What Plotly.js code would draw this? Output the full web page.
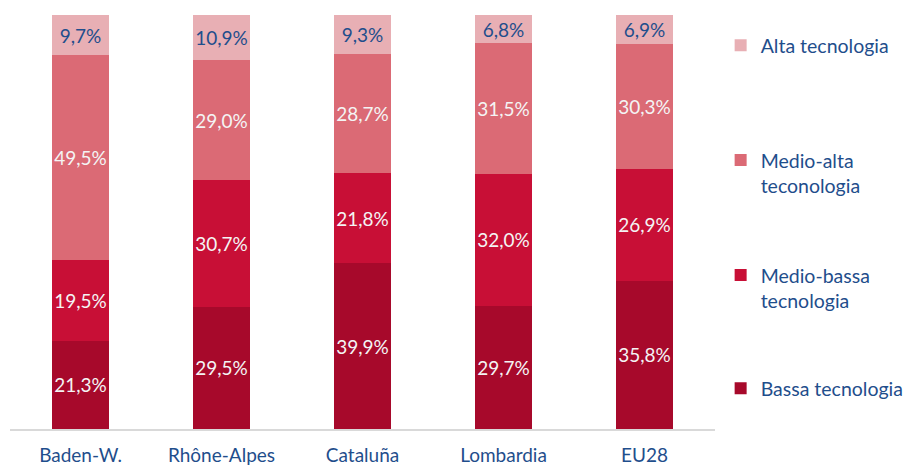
<!DOCTYPE html>
<html>
<head>
<meta charset="utf-8">
<script src="https://cdn.plot.ly/plotly-3.0.1.min.js"></script>
<style>html,body{margin:0;padding:0;background:#fff}#chart{width:906px;height:466px}</style>
</head>
<body>
<div id="chart"></div>
<script>
const categories = ['Baden-W.', 'Rhône-Alpes', 'Cataluña', 'Lombardia', 'EU28'];
const bassa = [21.3, 29.5, 39.9, 29.7, 35.8];
const medioBassa = [19.5, 30.7, 21.8, 32.0, 26.9];
const medioAlta = [49.5, 29.0, 28.7, 31.5, 30.3];
const alta = [9.7, 10.9, 9.3, 6.8, 6.9];
const seriesNames = ['Bassa tecnologia', 'Medio-bassa<br>tecnologia', 'Medio-alta<br>teconologia', 'Alta tecnologia'];

const FONT = 'Lato, "Noto Sans", sans-serif';
const BLUE = '#1F4E8C';
const fmt = v => v.toFixed(1).replace('.', ',') + '%';

function mk(vals, name, color, txtColor, leg) {
  return {
    type: 'bar', x: categories, y: vals, name: name,
    marker: {color: color, line: {width: 0}},
    text: vals.map(fmt), texttemplate: '%{text}',
    textposition: 'inside', insidetextanchor: 'middle', textangle: 0,
    insidetextfont: {family: FONT, size: 19, color: txtColor},
    hoverinfo: 'skip', legend: leg
  };
}

const data = [
  mk(bassa, seriesNames[0], '#A7092B', '#F4F4F4', 'legend4'),
  mk(medioBassa, seriesNames[1], '#C80F36', '#F4F4F4', 'legend3'),
  mk(medioAlta, seriesNames[2], '#DB6A75', '#F4F4F4', 'legend2'),
  mk(alta, seriesNames[3], '#E8AFB4', BLUE, 'legend')
];

function leg(y) {
  return {x: 1.008, xanchor: 'left', y: y, yanchor: 'top', valign: 'top',
          font: {family: FONT, size: 19.5, color: BLUE}, bgcolor: 'rgba(0,0,0,0)',
          borderwidth: 0, itemclick: false};
}

const layout = {
  width: 906, height: 466,
  margin: {l: 10, r: 191, t: 15, b: 37, autoexpand: false},
  paper_bgcolor: '#fff', plot_bgcolor: '#fff',
  barmode: 'stack', barnorm: 'percent', bargap: 0.6,
  uniformtext: {mode: 'show', minsize: 19},
  font: {family: FONT, color: BLUE},
  xaxis: {showline: true, linecolor: '#D9D9D9', linewidth: 1.5, ticks: '',
          ticklabelstandoff: 9,
          tickfont: {family: FONT, size: 19, color: BLUE}, showgrid: false, zeroline: false},
  yaxis: {visible: false, range: [0, 100], showgrid: false, zeroline: false},
  showlegend: true,
  legend: leg(0.973),
  legend2: leg(0.696),
  legend3: leg(0.418),
  legend4: leg(0.145)
};

Plotly.newPlot('chart', data, layout, {displayModeBar: false, staticPlot: true});
</script>
</body>
</html>
